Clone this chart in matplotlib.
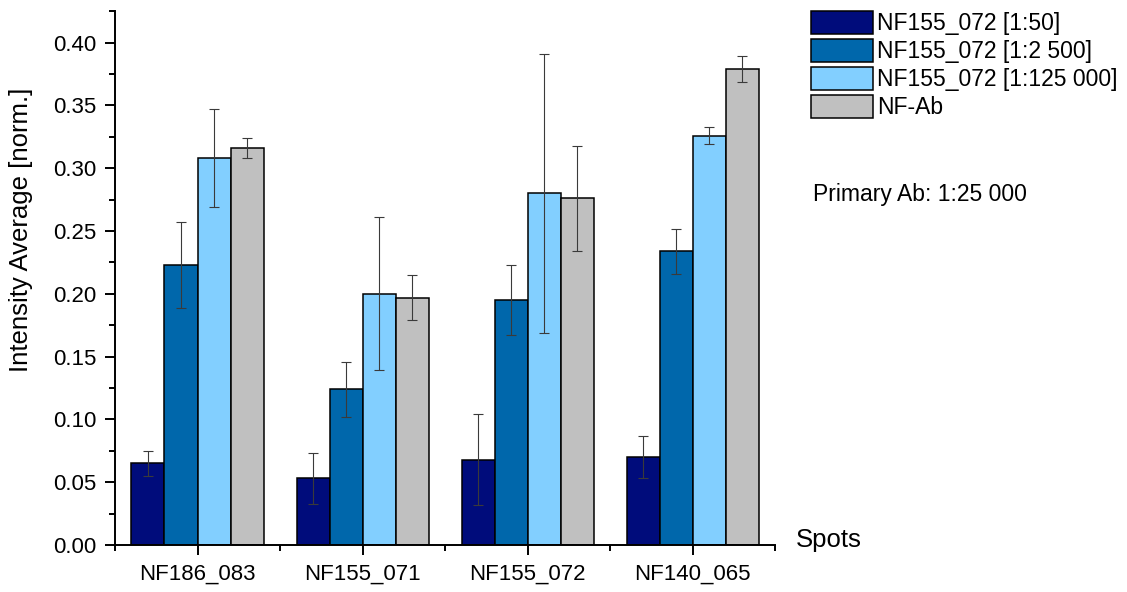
import numpy as np
import matplotlib.pyplot as plt
from matplotlib.ticker import MultipleLocator

plt.rcParams['font.family'] = ['Liberation Sans', 'DejaVu Sans']

spots = ["NF186_083", "NF155_071", "NF155_072", "NF140_065"]
series = ["NF155_072 [1:50]", "NF155_072 [1:2 500]", "NF155_072 [1:125 000]", "NF-Ab"]
colors = ["#000C7B", "#0067AB", "#82CFFF", "#C0C0C0"]

# mean intensity per spot, one list per series
dil_50 = [0.065, 0.053, 0.068, 0.070]
dil_2500 = [0.223, 0.124, 0.195, 0.234]
dil_125000 = [0.308, 0.200, 0.280, 0.326]
nf_ab = [0.316, 0.197, 0.276, 0.379]

# standard deviations
err_50 = [0.010, 0.020, 0.036, 0.017]
err_2500 = [0.034, 0.022, 0.028, 0.018]
err_125000 = [0.039, 0.061, 0.111, 0.007]
err_nf_ab = [0.008, 0.018, 0.042, 0.010]

means = [dil_50, dil_2500, dil_125000, nf_ab]
errs = [err_50, err_2500, err_125000, err_nf_ab]

fig = plt.figure(figsize=(11.27, 5.92), dpi=100)
ax = fig.add_axes([0.102, 0.0794, 0.586, 0.9016])

x = np.arange(1, len(spots) + 1)
w = 0.2
for i, (m, e) in enumerate(zip(means, errs)):
    pos = x + (i - 1.5) * w
    ax.bar(pos, m, width=w, color=colors[i], edgecolor="black", linewidth=1.1,
           label=series[i], zorder=2)
    ax.errorbar(pos, m, yerr=e, fmt="none", ecolor="#3a3a3a", elinewidth=0.8,
                capsize=3.6, capthick=0.8, zorder=3)

ax.set_xlim(0.5, 4.5)
ax.set_ylim(0, 0.425)
ax.set_xticks(x)
ax.set_xticklabels(spots)
ax.xaxis.set_minor_locator(MultipleLocator(1.0, offset=0.5))
ax.yaxis.set_major_locator(MultipleLocator(0.05))
ax.yaxis.set_minor_locator(MultipleLocator(0.025))
ax.yaxis.set_major_formatter(lambda v, p: f"{v:.2f}")

for s in ["top", "right"]:
    ax.spines[s].set_visible(False)
for s in ["left", "bottom"]:
    ax.spines[s].set_linewidth(1.4)

ax.tick_params(axis="both", which="major", direction="out", length=7.5, width=1.4,
               labelsize=16, pad=6)
ax.tick_params(axis="both", which="minor", direction="out", length=4, width=1.4)

ax.set_ylabel("Intensity Average [norm.]", fontsize=18.5)
ax.yaxis.set_label_coords(-0.124, 0.59)
fig.text(796 / 1127, 1 - 540 / 592, "Spots", fontsize=18.5, va="center", ha="left")

fig.legend(loc="upper left", bbox_to_anchor=(811 / 1127, 1 - 11 / 592),
           frameon=False, fontsize=16.5, handlelength=2.7, handleheight=1.2,
           labelspacing=0.15, handletextpad=0.17, borderpad=0, borderaxespad=0)
fig.text(813 / 1127, 1 - 195 / 592, "Primary Ab: 1:25 000", fontsize=16.5,
         va="center", ha="left")

fig.savefig("out.png", dpi=100)
